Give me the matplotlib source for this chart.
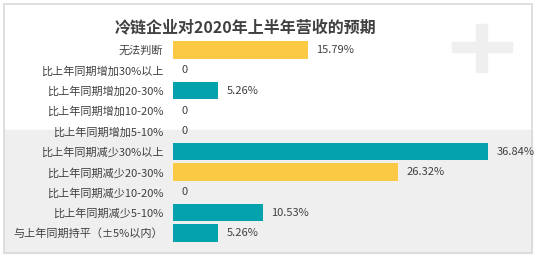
import matplotlib.pyplot as plt
from matplotlib.patches import Rectangle

plt.rcParams['font.family'] = ['Noto Sans CJK SC', 'DejaVu Sans']

categories = ['无法判断', '比上年同期增加30%以上', '比上年同期增加20-30%', '比上年同期增加10-20%',
              '比上年同期增加5-10%', '比上年同期减少30%以上', '比上年同期减少20-30%',
              '比上年同期减少10-20%', '比上年同期减少5-10%', '与上年同期持平（±5%以内）']
values = [15.79, 0, 5.26, 0, 0, 36.84, 26.32, 0, 10.53, 5.26]
highlight = [True, False, False, False, False, False, True, False, False, False]

TEAL = '#03a2ac'
YELLOW = '#fcc945'
TEXT = '#404040'

W, H = 539, 259
fig = plt.figure(figsize=(W / 100, H / 100), dpi=100)


def px(x0, y0, x1, y1):
    # pixel box (top-left origin) -> figure fraction rect
    return (x0 / W, 1 - y1 / H), (x1 - x0) / W, (y1 - y0) / H


# grey lower band and frame
xy, w, h = px(4, 130, 532, 253)
fig.patches.append(Rectangle(xy, w, h, transform=fig.transFigure, color='#efefef', zorder=-2))
xy, w, h = px(4, 4, 532, 253)
fig.patches.append(Rectangle(xy, w, h, transform=fig.transFigure, fill=False,
                             edgecolor='#d9d9d9', linewidth=1.2, zorder=-1))
# plus watermark
for box in [(452, 42, 512, 52), (476, 24, 487, 72)]:
    xy, w, h = px(*box)
    fig.patches.append(Rectangle(xy, w, h, transform=fig.transFigure, color='#efefef', zorder=-2))

ax = fig.add_axes([173 / W, 1 - 243.2 / H, 342 / W, (243.2 - 39.8) / H])
ax.set_zorder(2)
ax.patch.set_visible(False)

colors = [YELLOW if hl else TEAL for hl in highlight]
ypos = list(range(len(categories)))
ax.barh(ypos, values, height=0.84, color=colors)

for y, v in zip(ypos, values):
    lab = '0' if v == 0 else '%.2f%%' % v
    ax.annotate(lab, (v, y), xytext=(6, 0), textcoords='offset points',
                va='center', ha='left', fontsize=8, color=TEXT)

ax.set_xlim(0, 40)
ax.set_ylim(len(categories) - 0.5, -0.5)
ax.set_yticks(ypos)
ax.set_yticklabels(categories, fontsize=8, color=TEXT)
ax.tick_params(axis='y', length=0, pad=7)
ax.set_xticks([])
for s in ax.spines.values():
    s.set_visible(False)

fig.text(246 / W, 1 - 27 / H, '冷链企业对2020年上半年营收的预期', ha='center', va='center',
         fontsize=11.5, fontweight='bold', color=TEXT)

fig.savefig('out.png', dpi=100)
